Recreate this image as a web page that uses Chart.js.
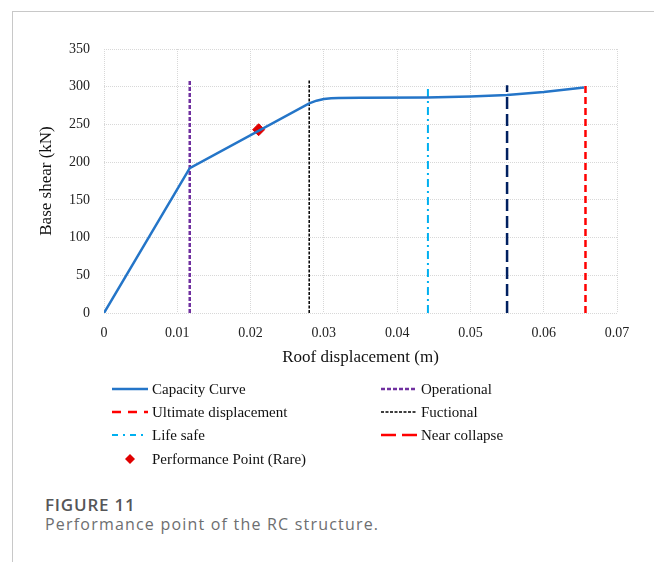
<!DOCTYPE html>
<html lang="en">
<head>
<meta charset="UTF-8">
<title>Performance point of the RC structure</title>
<script src="https://cdn.jsdelivr.net/npm/chart.js"></script>
<style>
    body { margin: 0; background: #fff; width: 654px; height: 562px; overflow: hidden; position: relative; }
    .frame { position: absolute; left: 12px; top: 11px; width: 700px; height: 600px; border-left: 1px solid #c8c8c8; border-top: 1px solid #c8c8c8; }
    .chart-box { position: absolute; left: 0; top: 0; width: 654px; height: 480px; }
    .fig-num { position: absolute; left: 45px; top: 494px; font: 600 17px "Open Sans", sans-serif; letter-spacing: 0.8px; color: #555658; line-height: 22px; }
    .fig-text { position: absolute; left: 45px; top: 513px; font: 16px "Open Sans", sans-serif; letter-spacing: 1.2px; color: #6d6e70; line-height: 22px; }
</style>
</head>
<body>
<div class="frame"></div>
<div class="chart-box"><canvas id="chart"></canvas></div>
<div class="fig-num">FIGURE 11</div>
<div class="fig-text">Performance point of the RC structure.</div>

<script>
// capacity curve
const capX = [0, 0.0117, 0.028, 0.029, 0.030, 0.031, 0.032, 0.035, 0.044, 0.05, 0.055, 0.06, 0.0655];
const capY = [0, 192, 278, 281.5, 283.8, 284.8, 285.2, 285.4, 285.8, 287, 289, 293, 299];

// limit state lines
const levelNames = ["Operational", "Fuctional", "Life safe", "Near collapse", "Ultimate displacement"];
const levelX = [0.0117, 0.028, 0.0442, 0.055, 0.0657];
const levelTop = [310, 310, 302, 302, 306];

// performance point
const ppX = [0.0211];
const ppY = [243];

const xTicks = [0, 0.01, 0.02, 0.03, 0.04, 0.05, 0.06, 0.07];

const serif = '"Liberation Serif", "Times New Roman", serif';

function pts(xs, ys) {
    return xs.map((x, i) => ({ x: x, y: ys[i] }));
}

function levelLine(i, color, dash, width, legendColor, legendDash) {
    return {
        label: levelNames[i],
        data: [{ x: levelX[i], y: 0 }, { x: levelX[i], y: levelTop[i] }],
        borderColor: color,
        borderDash: dash,
        borderWidth: width,
        pointRadius: 0,
        legendColor: legendColor || color,
        legendDash: legendDash || dash
    };
}

const datasets = [
    { label: "Capacity Curve", data: pts(capX, capY), borderColor: "#2475c8", borderWidth: 2.5, pointRadius: 0, tension: 0 },
    levelLine(0, "#7030a0", [4, 2], 2.5),
    levelLine(4, "#ff0000", [7, 4], 2.5, null, [9, 7]),
    levelLine(1, "#000000", [3, 1.5], 1.5),
    levelLine(2, "#00b0f0", [8, 4, 2, 4], 2, null, [6, 5, 2, 5]),
    levelLine(3, "#002060", [12, 5], 2.5, "#ff0000", [15, 6]),
    { label: "Performance Point (Rare)", data: pts(ppX, ppY), showLine: false, pointStyle: "rectRot",
      pointRadius: 6, backgroundColor: "#e00000", borderColor: "#e00000" }
];

// two-column legend below the axis
const legendSlots = [[112, 389], [381, 389], [112, 412], [381, 412], [112, 435], [381, 435], [112, 459]];

const legendPlugin = {
    id: "gridLegend",
    afterDraw(chart) {
        const ctx = chart.ctx;
        ctx.save();
        ctx.font = "15px " + serif;
        ctx.textBaseline = "middle";
        chart.data.datasets.forEach((ds, i) => {
            const [x, y] = legendSlots[i];
            if (ds.showLine === false) {
                ctx.fillStyle = ds.backgroundColor;
                ctx.beginPath();
                ctx.moveTo(x + 18, y - 5);
                ctx.lineTo(x + 23, y);
                ctx.lineTo(x + 18, y + 5);
                ctx.lineTo(x + 13, y);
                ctx.closePath();
                ctx.fill();
            } else {
                ctx.strokeStyle = ds.legendColor || ds.borderColor;
                ctx.lineWidth = ds.borderWidth;
                ctx.setLineDash(ds.legendDash || []);
                ctx.beginPath();
                ctx.moveTo(x, y);
                ctx.lineTo(x + 36, y);
                ctx.stroke();
                ctx.setLineDash([]);
            }
            ctx.fillStyle = "#111";
            ctx.fillText(ds.label, x + 40, y + 1);
        });
        ctx.restore();
    }
};

new Chart(document.getElementById("chart"), {
    type: "line",
    data: { datasets: datasets },
    options: {
        responsive: true,
        maintainAspectRatio: false,
        animation: false,
        layout: { padding: { left: 32, top: 49, right: 37, bottom: 108 } },
        plugins: { legend: { display: false }, tooltip: { enabled: false } },
        scales: {
            x: {
                type: "linear",
                min: 0,
                max: 0.07,
                afterFit: s => { s.height = 59; },
                afterBuildTicks: s => { s.ticks = xTicks.map(v => ({ value: v })); },
                grid: { color: "#d8d8d8", drawTicks: false },
                border: { display: false, dash: [1, 1] },
                ticks: {
                    padding: 12,
                    color: "#222",
                    font: { family: serif, size: 14 },
                    callback: v => String(Number(v.toFixed(2)))
                },
                title: { display: true, text: "Roof displacement (m)", color: "#111", font: { family: serif, size: 17 } }
            },
            y: {
                min: 0,
                max: 350,
                afterFit: s => { s.width = 72; },
                grid: { color: "#d8d8d8", drawTicks: false },
                border: { display: false, dash: [1, 1] },
                ticks: { stepSize: 50, padding: 14, color: "#222", font: { family: serif, size: 14 } },
                title: { display: true, text: "Base shear (kN)", color: "#111", font: { family: serif, size: 17 } }
            }
        }
    },
    plugins: [legendPlugin]
});
</script>
</body>
</html>
